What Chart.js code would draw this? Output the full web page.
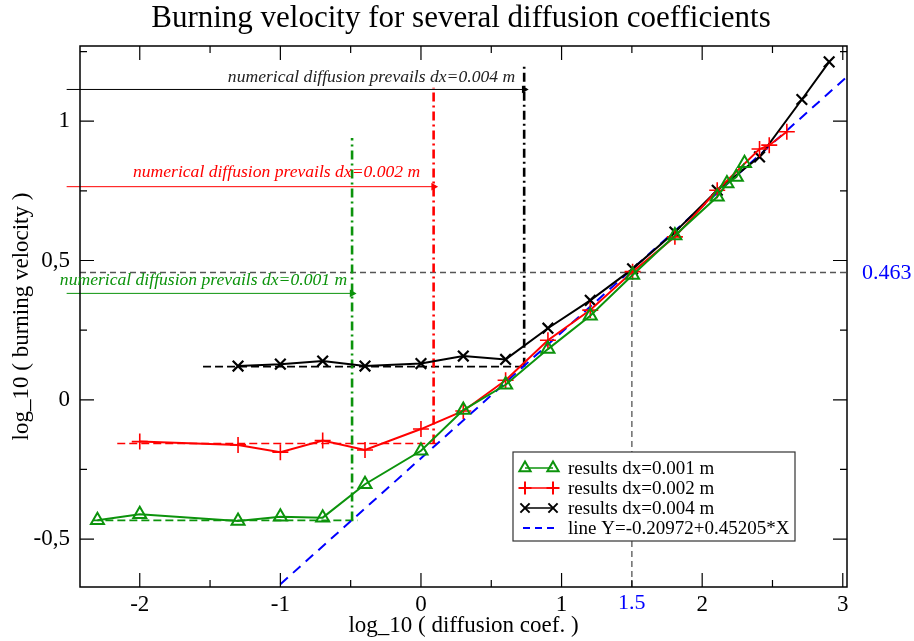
<!DOCTYPE html>
<html>
<head>
<meta charset="utf-8">
<script src="https://cdn.jsdelivr.net/npm/chart.js@4.4.1/dist/chart.umd.min.js"></script>
<style>
  html, body { margin: 0; padding: 0; background: #fff; }
  #wrap { width: 914px; height: 641px; }
</style>
</head>
<body>
<div id="wrap"><canvas id="canvas" width="914" height="641"></canvas></div>
<script>
/* Data (log10 values) */
const xGreen = [-2.301, -2, -1.301, -1, -0.699, -0.398, 0, 0.301, 0.602, 0.903, 1.204, 1.505, 1.806, 2.107, 2.176, 2.243, 2.301];
const yGreen = [-0.432, -0.411, -0.435, -0.420, -0.423, -0.303, -0.183, -0.037, 0.054, 0.182, 0.302, 0.448, 0.590, 0.729, 0.776, 0.800, 0.849];

const xRed = [-2, -1.301, -1, -0.699, -0.398, 0, 0.301, 0.602, 0.903, 1.204, 1.505, 1.806, 2.107, 2.408, 2.477, 2.602];
const yRed = [-0.150, -0.162, -0.188, -0.146, -0.180, -0.105, -0.040, 0.070, 0.214, 0.322, 0.460, 0.585, 0.752, 0.900, 0.914, 0.962];

const xBlack = [-1.301, -1, -0.699, -0.398, 0, 0.301, 0.602, 0.903, 1.204, 1.505, 1.806, 2.107, 2.408, 2.709, 2.903];
const yBlack = [0.121, 0.128, 0.139, 0.121, 0.130, 0.157, 0.145, 0.257, 0.357, 0.470, 0.602, 0.752, 0.872, 1.078, 1.213];

/* fitted line Y=-0.20972+0.45205*X, end points */
const xFit = [-1, 3.03];
const yFit = [-0.662, 1.160];

/* guides: green, red, black */
const plateauY = [-0.433, -0.157, 0.119];
const plateauFrom = [-2.33, -2.16, -1.55];
const plateauTo = [-0.45, 0.12, 0.73];
const limitX = [-0.49, 0.09, 0.734];
const limitTop = [0.94, 1.12, 1.20];
const arrowY = [0.382, 0.765, 1.114];
const arrowFrom = -2.52;
const notes = [
  "numerical diffusion prevails dx=0.001 m",
  "numerical diffusion prevails dx=0.002 m",
  "numerical diffusion prevails dx=0.004 m"
];
const noteX = [-0.525, -0.005, 0.67];
const noteY = [0.43, 0.817, 1.158];

const markX = 1.5;
const markY = 0.457;
const markLabelX = "1.5";
const markLabelY = "0.463";

const xTicks = [-2, -1, 0, 1, 2, 3];
const yTicks = [-0.5, 0, 0.5, 1];
const xMin = -2.425, xMax = 3.03;
const yMin = -0.672, yMax = 1.27;

const seriesNames = ["results dx=0.001 m", "results dx=0.002 m", "results dx=0.004 m", "line Y=-0.20972+0.45205*X"];

/* colours */
const GREEN = "#0c930c";
const RED = "#ff0000";
const BLACK = "#000000";
const BLUE = "#0000ff";
const GREY = "#555555";
const guideColors = [GREEN, RED, BLACK];
const serif = "'Liberation Serif', 'Times New Roman', serif";

function pts(xs, ys) {
  return xs.map((x, i) => ({ x: x, y: ys[i] }));
}

let datasets = [];

/* Data series */
datasets.push({
  label: seriesNames[0], data: pts(xGreen, yGreen), showLine: true,
  borderColor: GREEN, borderWidth: 2, pointStyle: "triangle", pointRadius: 7.5,
  pointBorderWidth: 2, pointBorderColor: GREEN, pointBackgroundColor: "rgba(0,0,0,0)", order: 1
});
datasets.push({
  label: seriesNames[1], data: pts(xRed, yRed), showLine: true,
  borderColor: RED, borderWidth: 2, pointStyle: "cross", pointRadius: 8,
  pointBorderWidth: 1.6, pointBorderColor: RED, order: 1
});
datasets.push({
  label: seriesNames[2], data: pts(xBlack, yBlack), showLine: true,
  borderColor: BLACK, borderWidth: 2, pointStyle: "crossRot", pointRadius: 7.5,
  pointBorderWidth: 2.2, pointBorderColor: BLACK, order: 1
});
datasets.push({
  label: seriesNames[3], data: pts(xFit, yFit), showLine: true,
  borderColor: BLUE, borderWidth: 2, borderDash: [10, 7], pointRadius: 0, order: 2
});

/* Guides: plateaus, limits, arrows */
for (let i = 0; i < 3; i++) {
  datasets.push({
    data: pts([plateauFrom[i], plateauTo[i]], [plateauY[i], plateauY[i]]), showLine: true,
    borderColor: guideColors[i], borderWidth: 1.6, borderDash: [8, 4], pointRadius: 0, order: 5
  });
  datasets.push({
    data: pts([limitX[i], limitX[i]], [plateauY[i], limitTop[i]]), showLine: true,
    borderColor: guideColors[i], borderWidth: 2.6, borderDash: [9, 4, 2, 4], pointRadius: 0, order: 5
  });
  datasets.push({
    data: pts([arrowFrom, limitX[i]], [arrowY[i], arrowY[i]]), showLine: true, clip: false,
    borderColor: guideColors[i], borderWidth: 1, pointStyle: "triangle", pointRadius: 4.5,
    pointRotation: [-90, 90], pointBorderWidth: 0,
    pointBackgroundColor: guideColors[i], order: 5
  });
}
datasets.push({
  data: pts([xMin, xMax], [markY, markY]), showLine: true,
  borderColor: GREY, borderWidth: 1.3, borderDash: [6, 4], pointRadius: 0, order: 6
});
datasets.push({
  data: pts([markX, markX], [yMin, markY]), showLine: true,
  borderColor: GREY, borderWidth: 1.3, borderDash: [6, 4], pointRadius: 0, order: 6
});

/* Frame with inward major and minor ticks */
const frameTicks = {
  id: "frameTicks",
  afterDraw(chart) {
    const ctx = chart.ctx;
    const a = chart.chartArea;
    const xs = chart.scales.x, ys = chart.scales.y;
    ctx.save();
    ctx.strokeStyle = "#000";
    ctx.lineWidth = 1.5;
    ctx.strokeRect(a.left, a.top, a.right - a.left, a.bottom - a.top);
    ctx.lineWidth = 1.2;
    ctx.beginPath();
    for (let v = -2.5; v <= xMax + 1e-9; v += 0.5) {
      if (v < xMin) continue;
      const len = Math.abs(v % 1) < 1e-9 ? 14 : 7;
      const px = xs.getPixelForValue(v);
      ctx.moveTo(px, a.bottom); ctx.lineTo(px, a.bottom - len);
      ctx.moveTo(px, a.top); ctx.lineTo(px, a.top + len);
    }
    for (let v = -0.5; v <= yMax + 1e-9; v += 0.25) {
      const len = Math.abs(v % 0.5) < 1e-9 ? 14 : 7;
      const py = ys.getPixelForValue(v);
      ctx.moveTo(a.left, py); ctx.lineTo(a.left + len, py);
      ctx.moveTo(a.right, py); ctx.lineTo(a.right - len, py);
    }
    ctx.stroke();

    /* blue marks for the crossing point */
    ctx.fillStyle = BLUE;
    ctx.font = "22px " + serif;
    ctx.textAlign = "center";
    ctx.textBaseline = "top";
    ctx.fillText(markLabelX, xs.getPixelForValue(markX), a.bottom + 5);
    ctx.textAlign = "left";
    ctx.textBaseline = "middle";
    ctx.fillText(markLabelY, a.right + 15, ys.getPixelForValue(markY) + 1);

    /* notes over the arrows */
    ctx.font = "italic 17.6px " + serif;
    ctx.textAlign = "right";
    for (let i = 0; i < 3; i++) {
      ctx.fillStyle = guideColors[i] === BLACK ? "#222" : guideColors[i];
      ctx.fillText(notes[i], xs.getPixelForValue(noteX[i]), ys.getPixelForValue(noteY[i]));
    }

    /* legend box */
    const lx = a.left + 433, ly = a.top + 406, lw = 282, lh = 89;
    ctx.fillStyle = "#fff";
    ctx.fillRect(lx, ly, lw, lh);
    ctx.strokeStyle = "#333";
    ctx.lineWidth = 1.2;
    ctx.strokeRect(lx, ly, lw, lh);
    const styles = ["triangle", "cross", "crossRot"];
    const cols = [GREEN, RED, BLACK];
    ctx.font = "19px " + serif;
    ctx.textAlign = "left";
    ctx.textBaseline = "middle";
    for (let i = 0; i < 4; i++) {
      const ry = ly + 16 + i * 20;
      ctx.strokeStyle = i < 3 ? cols[i] : BLUE;
      ctx.lineWidth = i < 3 ? 1.5 : 2;
      ctx.setLineDash(i < 3 ? [] : [7, 5]);
      ctx.beginPath();
      ctx.moveTo(lx + (i < 3 ? 12 : 10), ry);
      ctx.lineTo(lx + (i < 3 ? 40 : 42), ry);
      ctx.stroke();
      ctx.setLineDash([]);
      if (i < 3) {
        ctx.fillStyle = "rgba(0,0,0,0)";
        ctx.lineWidth = 2;
        const opt = { pointStyle: styles[i], radius: 6.5, rotation: 0, borderWidth: 2 };
        Chart.helpers.drawPoint(ctx, opt, lx + 12, ry);
        Chart.helpers.drawPoint(ctx, opt, lx + 40, ry);
      }
      ctx.fillStyle = "#000";
      ctx.fillText(seriesNames[i], lx + 55, ry + 1);
    }
    ctx.restore();
  }
};

Chart.defaults.font.family = serif;
Chart.defaults.color = "#000";

const ctx = document.getElementById("canvas").getContext("2d");
window.myChart = new Chart(ctx, {
  type: "scatter",
  data: { datasets: datasets },
  options: {
    responsive: false,
    animation: false,
    layout: { padding: { left: 8, right: 0, top: 0, bottom: 0 } },
    plugins: {
      legend: { display: false },
      tooltip: { enabled: false },
      title: {
        display: true,
        text: "Burning velocity for several diffusion coefficients",
        font: { size: 31, weight: "normal", family: serif },
        color: "#000",
        padding: { top: 0, bottom: 8.8 }
      }
    },
    scales: {
      x: {
        type: "linear", min: xMin, max: xMax,
        afterFit: (s) => { s.height = 54; },
        afterBuildTicks: (s) => { s.ticks = xTicks.map((v) => ({ value: v })); },
        grid: { display: false, drawTicks: false },
        border: { display: false },
        ticks: { padding: 4, font: { size: 23 }, callback: (v) => String(v) },
        title: { display: true, text: "log_10 ( diffusion coef. )", font: { size: 23 }, padding: { top: 0, bottom: 1 } }
      },
      y: {
        type: "linear", min: yMin, max: yMax,
        afterFit: (s) => { s.width = 72; },
        afterBuildTicks: (s) => { s.ticks = yTicks.map((v) => ({ value: v })); },
        grid: { display: false, drawTicks: false },
        border: { display: false },
        ticks: { padding: 10, font: { size: 23 }, callback: (v) => String(v).replace(".", ",") },
        title: { display: true, text: "log_10 ( burning velocity )", font: { size: 23 }, padding: { top: 0, bottom: 0 } }
      },
      /* empty right axis reserving room for the 0.463 label */
      yRight: {
        type: "linear", position: "right", min: yMin, max: yMax,
        afterFit: (s) => { s.width = 67; },
        grid: { display: false, drawTicks: false },
        border: { display: false },
        ticks: { display: false }
      }
    }
  },
  plugins: [frameTicks]
});
</script>
</body>
</html>
